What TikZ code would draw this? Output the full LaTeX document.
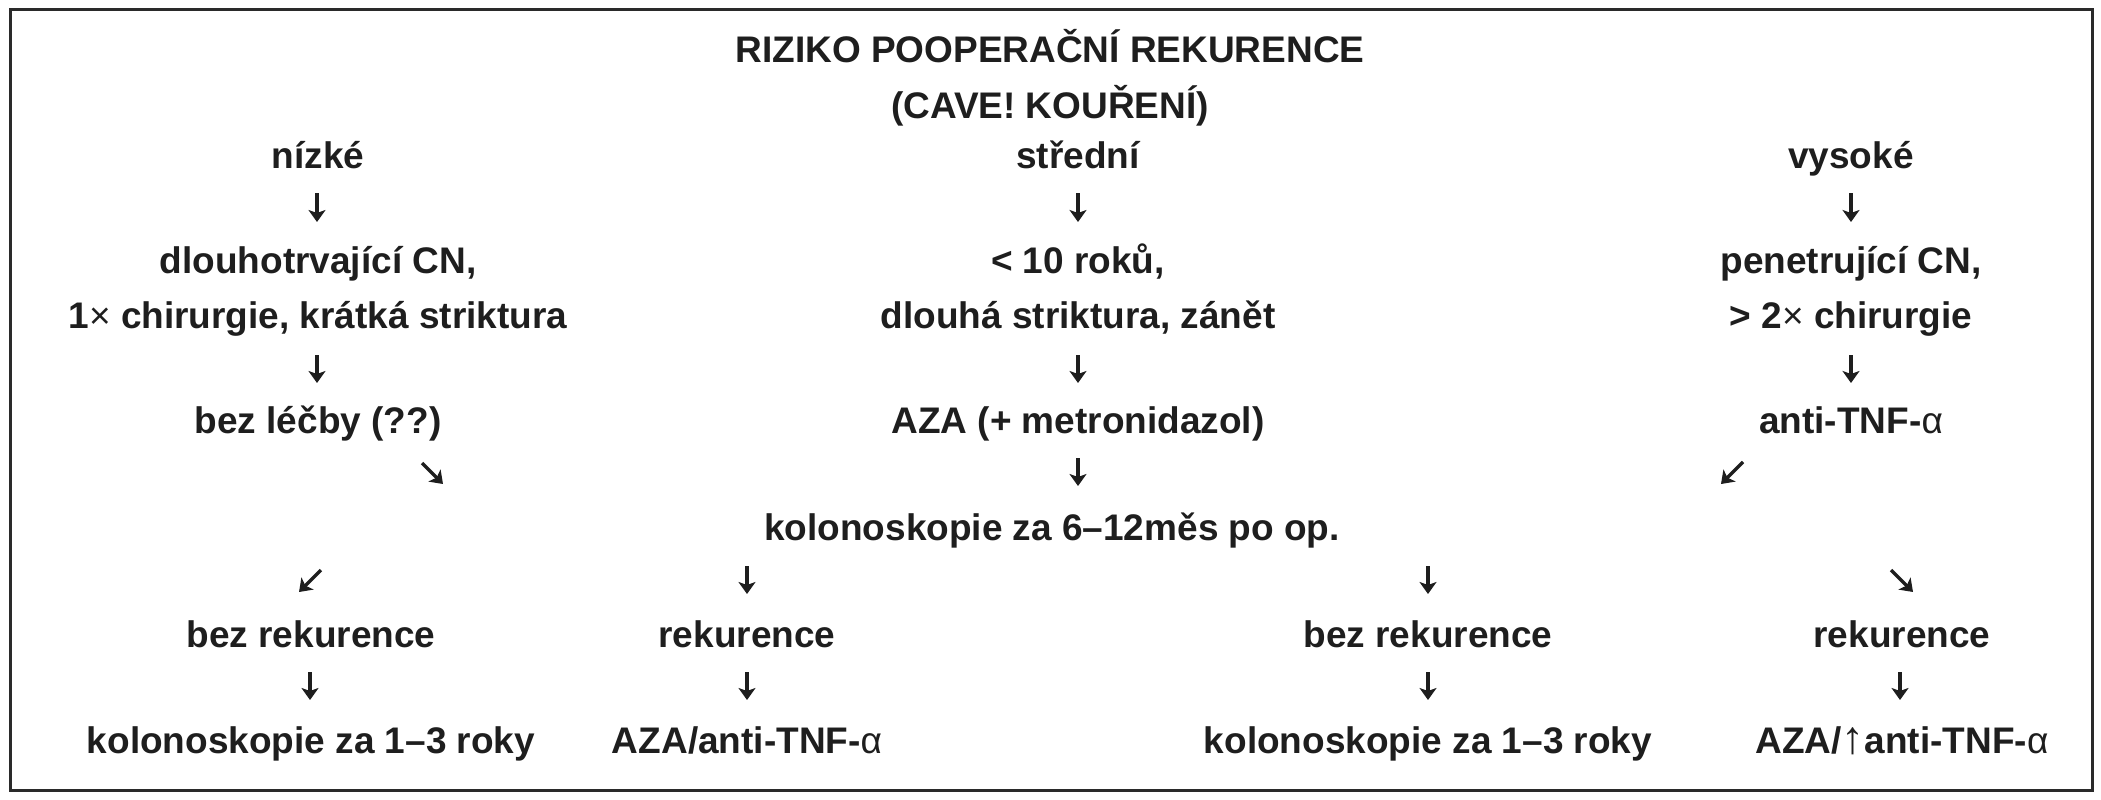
\documentclass[tikz,border=0pt]{standalone}
\usepackage{fontspec}
\setmainfont{Liberation Sans}
\usetikzlibrary{arrows.meta}
\definecolor{ink}{HTML}{1E1E1E}
\definecolor{frame}{HTML}{2A2A2A}
\newcommand{\tms}{{\fontseries{m}\selectfont ×}}
\newcommand{\alf}{{\fontseries{m}\selectfont α}}
\begin{document}
\begin{tikzpicture}[x=1pt,y=-1pt,
  lbl/.style={anchor=base, inner sep=0pt, text=ink, font=\fontsize{37}{44}\bfseries\selectfont},
  arr/.style={draw=ink, line width=3.4pt, -{Stealth[length=12pt,width=17pt,inset=3pt]}}]
\useasboundingbox (0,0) rectangle (2101,800);
\draw[line width=3pt, draw=frame] (10,10) rectangle (2092,790);
% texts
\node[lbl] (title1) at (1050,63) {RIZIKO POOPERAČNÍ REKURENCE};
\node[lbl] (title2) at (1050,118) {(CAVE! KOUŘENÍ)};
\node[lbl] (low)  at (318,168) {nízké};
\node[lbl] (mid)  at (1078,168) {střední};
\node[lbl] (high) at (1851,168) {vysoké};
\node[lbl] (lowA)  at (318,273) {dlouhotrvající CN,};
\node[lbl] (midA)  at (1078,273) {< 10 roků,};
\node[lbl] (highA) at (1851,273) {penetrující CN,};
\node[lbl] (lowB)  at (318,328) {1\tms{} chirurgie, krátká striktura};
\node[lbl] (midB)  at (1078,328) {dlouhá striktura, zánět};
\node[lbl] (highB) at (1851,328) {> 2\tms{} chirurgie};
\node[lbl] (lowC)  at (318,433) {bez léčby (??)};
\node[lbl] (midC)  at (1078,433) {AZA (+ metronidazol)};
\node[lbl] (highC) at (1851,433) {anti-TNF-\alf};
\node[lbl] (kolo)  at (1052,540) {kolonoskopie za 6–12měs po op.};
\node[lbl] (r1) at (311,647) {bez rekurence};
\node[lbl] (r2) at (747,647) {rekurence};
\node[lbl] (r3) at (1428,647) {bez rekurence};
\node[lbl] (r4) at (1902,647) {rekurence};
\node[lbl] (t1) at (311,753) {kolonoskopie za 1–3 roky};
\node[lbl] (t2) at (747,753) {AZA/anti-TNF-\alf};
\node[lbl] (t3) at (1428,753) {kolonoskopie za 1–3 roky};
\node[lbl] (t4) at (1902,753) {AZA/{\fontsize{46}{46}\fontseries{m}\selectfont ↑}anti-TNF-\alf};
% arrow end points
\coordinate (a1s) at (317,193);  \coordinate (a1e) at (317,222);
\coordinate (a2s) at (1078,193); \coordinate (a2e) at (1078,222);
\coordinate (a3s) at (1851,193); \coordinate (a3e) at (1851,222);
\coordinate (b1s) at (317,355);  \coordinate (b1e) at (317,383);
\coordinate (b2s) at (1078,355); \coordinate (b2e) at (1078,383);
\coordinate (b3s) at (1851,355); \coordinate (b3e) at (1851,383);
\coordinate (c1s) at (422,463);  \coordinate (c1e) at (443,484);
\coordinate (c2s) at (1078,458); \coordinate (c2e) at (1078,486);
\coordinate (c3s) at (1743,462); \coordinate (c3e) at (1721,484);
\coordinate (d1s) at (321,570);  \coordinate (d1e) at (299,592);
\coordinate (d2s) at (747,566);  \coordinate (d2e) at (747,594);
\coordinate (d3s) at (1428,566); \coordinate (d3e) at (1428,594);
\coordinate (d4s) at (1891,570); \coordinate (d4e) at (1913,592);
\coordinate (e1s) at (310,672);  \coordinate (e1e) at (310,700);
\coordinate (e2s) at (747,672);  \coordinate (e2e) at (747,700);
\coordinate (e3s) at (1428,672); \coordinate (e3e) at (1428,700);
\coordinate (e4s) at (1900,672); \coordinate (e4e) at (1900,700);
\foreach \p in {a1,a2,a3,b1,b2,b3,c1,c2,c3,d1,d2,d3,d4,e1,e2,e3,e4}
  \draw[arr] (\p s) -- (\p e);
\end{tikzpicture}
\end{document}
